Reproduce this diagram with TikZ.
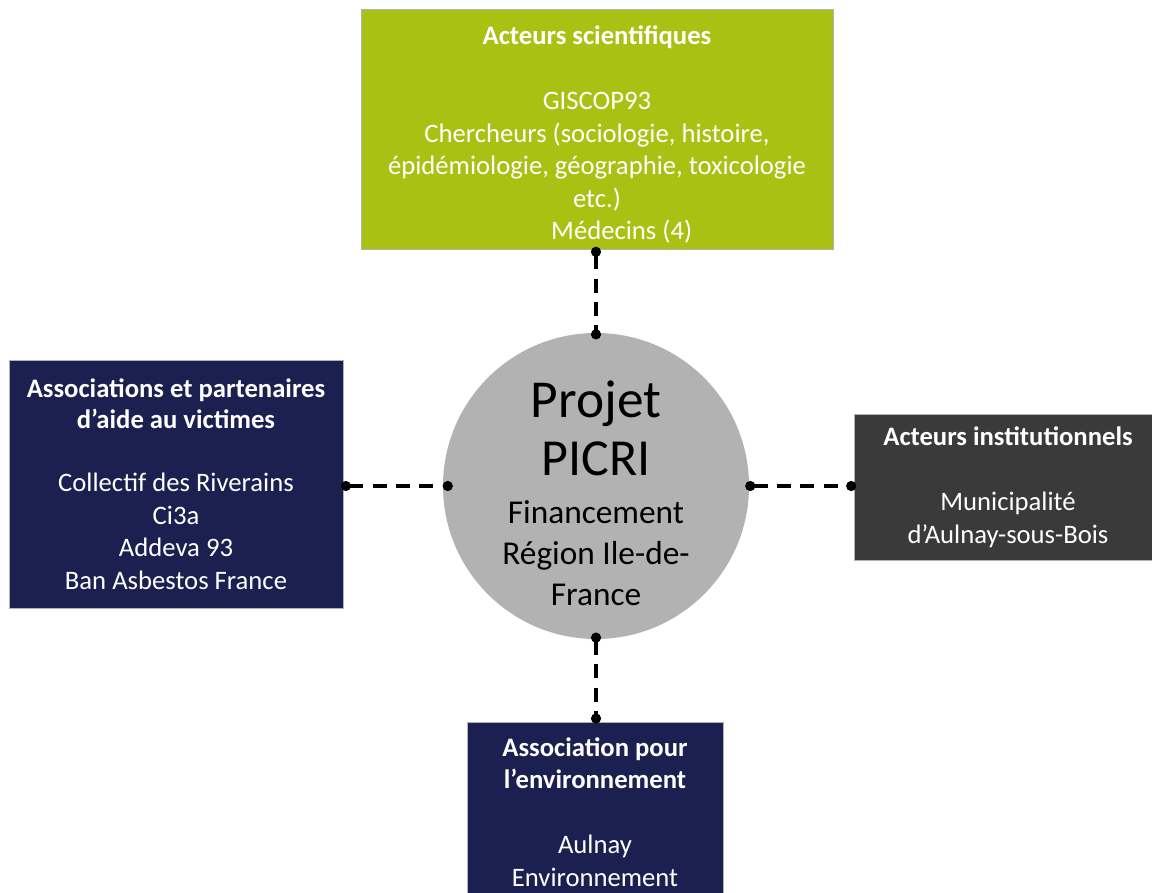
\documentclass[tikz,border=0pt]{standalone}
\usepackage{fontspec}
\setmainfont{Carlito}
\usetikzlibrary{arrows.meta}

\definecolor{verdeSci}{RGB}{168,193,18}
\definecolor{bluAss}{RGB}{27,32,80}
\definecolor{grigioIst}{RGB}{58,58,58}
\definecolor{grigioPro}{RGB}{178,178,178}

\tikzset{
  scatola/.style={draw=gray!60, line width=0.75pt, text=white, align=center,
    inner sep=0pt, font=\fontsize{20}{24.4}\selectfont},
  legame/.style={line width=2.4pt, dash pattern=on 10.5pt off 7pt,
    {Circle[length=7.5pt,width=7.5pt]}-{Circle[length=7.5pt,width=7.5pt]}},
}

\begin{document}
\begin{tikzpicture}[x=0.75pt, y=-0.75pt]
        \useasboundingbox (0,0) rectangle (1152,892);

        % Progetto al centro
        \node[circle, fill=grigioPro, minimum size=229.5pt, inner sep=0pt, align=center,
              font=\fontsize{25}{30.5}\selectfont] (picri) at (596,486)
            {\rule{0pt}{38pt}{\fontsize{40}{46.5}\selectfont Projet}\\[11pt]
             {\fontsize{39}{46.5}\selectfont PICRI}\\[5.5pt]
             Financement\\
             Région Ile-de-\\
             France};

        % Acteurs scientifiques (in alto)
        \node[scatola, fill=verdeSci, minimum width=354pt, minimum height=179.25pt] (sci) at (597,129.5)
            {\rule{0pt}{22pt}\textbf{Acteurs scientifiques}\\[24.4pt]
             GISCOP93\\
             Chercheurs (sociologie, histoire,\\
             épidémiologie, géographie, toxicologie\\
             etc.)\\
             \hspace*{37pt}Médecins (4)};

        % Associations (a sinistra)
        \node[scatola, fill=bluAss, minimum width=250.5pt, minimum height=186pt] (vict) at (176,484)
            {\textbf{Associations et partenaires}\\[-1pt]
             \textbf{d’aide au victimes}\\[23pt]
             Collectif des Riverains\\
             Ci3a\\
             Addeva 93\\
             Ban Asbestos France};

        % Acteurs institutionnels (a destra)
        \node[scatola, fill=grigioIst, minimum width=231pt, minimum height=109.5pt] (inst) at (1008,487)
            {\textbf{Acteurs institutionnels}\\[24.4pt]
             Municipalité\\
             d’Aulnay-sous-Bois};

        % Environnement (in basso)
        \node[scatola, fill=bluAss, minimum width=192pt, minimum height=135pt] (env) at (595,812)
            {\textbf{Association pour}\\
             \textbf{l’environnement}\\[24.4pt]
             Aulnay\\
             Environnement};

        % Legami tratteggiati
        \draw[legame, shorten <=-2pt, shorten >=-5pt] (sci.south -| picri.north) -- (picri.north);
        \draw[legame, shorten <=-2pt, shorten >=-7.5pt] (vict.east |- picri.west) -- (picri.west);
        \draw[legame, shorten <=-3pt, shorten >=-2pt] (picri.east) -- (inst.west |- picri.east);
        \draw[legame, shorten <=-5pt, shorten >=-1.5pt] (picri.south) -- (env.north -| picri.south);

\end{tikzpicture}
\end{document}
